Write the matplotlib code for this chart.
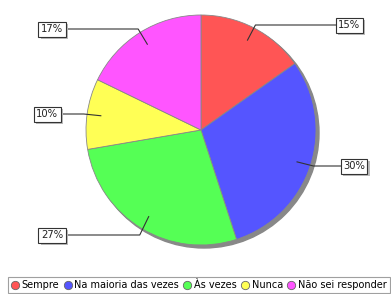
import numpy as np
import matplotlib
matplotlib.use('Agg')
import matplotlib.pyplot as plt
import matplotlib.patheffects as pe
from matplotlib.lines import Line2D
from matplotlib.patches import Circle

categories = ['Sempre', 'Na maioria das vezes', 'Às vezes', 'Nunca', 'Não sei responder']
values = [15.2, 29.8, 27.3, 9.9, 17.8]
pct_labels = ['15%', '30%', '27%', '10%', '17%']
colors = ['#ff5555', '#5555ff', '#55ff55', '#ffff55', '#ff55ff']

W, H = 391, 294
fig = plt.figure(figsize=(W / 100, H / 100), dpi=100)
ax = fig.add_axes([0, 0, 1, 1])

cx, cy, R = 201, 164, 115

## -- shadow under the pie
ax.add_patch(Circle((cx + 3, cy - 3), R, color='#888888', zorder=0))
wedges, _ = ax.pie(values, colors=colors, startangle=90, counterclock=False,
                   center=(cx, cy), radius=R,
                   wedgeprops=dict(edgecolor='#888888', linewidth=0.6))
for w in wedges:
    w.set_zorder(1)

## -- label box positions (x of box edge, y of text centre)
box_x = [338, 343, 63, 58, 63]
box_y = [294 - 25, 294 - 166, 294 - 235, 294 - 114, 294 - 29]
for w, lab, bx, by in zip(wedges, pct_labels, box_x, box_y):
    mid = np.deg2rad((w.theta1 + w.theta2) / 2)
    ix, iy = cx + 0.88 * R * np.cos(mid), cy + 0.88 * R * np.sin(mid)
    kx, ky = cx + 1.03 * R * np.cos(mid), cy + 1.03 * R * np.sin(mid)
    ax.plot([ix, kx, bx], [iy, by, by], color='#333333', lw=0.8, zorder=2)
    ha = 'left' if bx > cx else 'right'
    t = ax.text(bx, by, lab, ha=ha, va='center', fontsize=7.2, color='#222222',
                zorder=4,
                bbox=dict(boxstyle='square,pad=0.25', fc='white', ec='#333333', lw=0.8))
    t.get_bbox_patch().set_path_effects([
        pe.SimplePatchShadow(offset=(2, -2), shadow_rgbFace='#bbbbbb', alpha=1),
        pe.Normal()])

ax.set_xlim(0, W)
ax.set_ylim(0, H)
ax.set_aspect('auto')
ax.axis('off')

handles = [Line2D([], [], marker='o', ls='', markersize=6, markerfacecolor=c,
                  markeredgecolor='#666666', markeredgewidth=0.6) for c in colors]
leg = fig.legend(handles, categories, loc='lower left', bbox_to_anchor=(8 / W, 1 / H),
                 ncol=5, fontsize=7, frameon=True, fancybox=False,
                 handlelength=0.8, handletextpad=0.3, columnspacing=0.45,
                 borderpad=0.3, borderaxespad=0)
leg.get_frame().set_edgecolor('#888888')
leg.get_frame().set_linewidth(0.8)

fig.savefig('out.png', dpi=100)
